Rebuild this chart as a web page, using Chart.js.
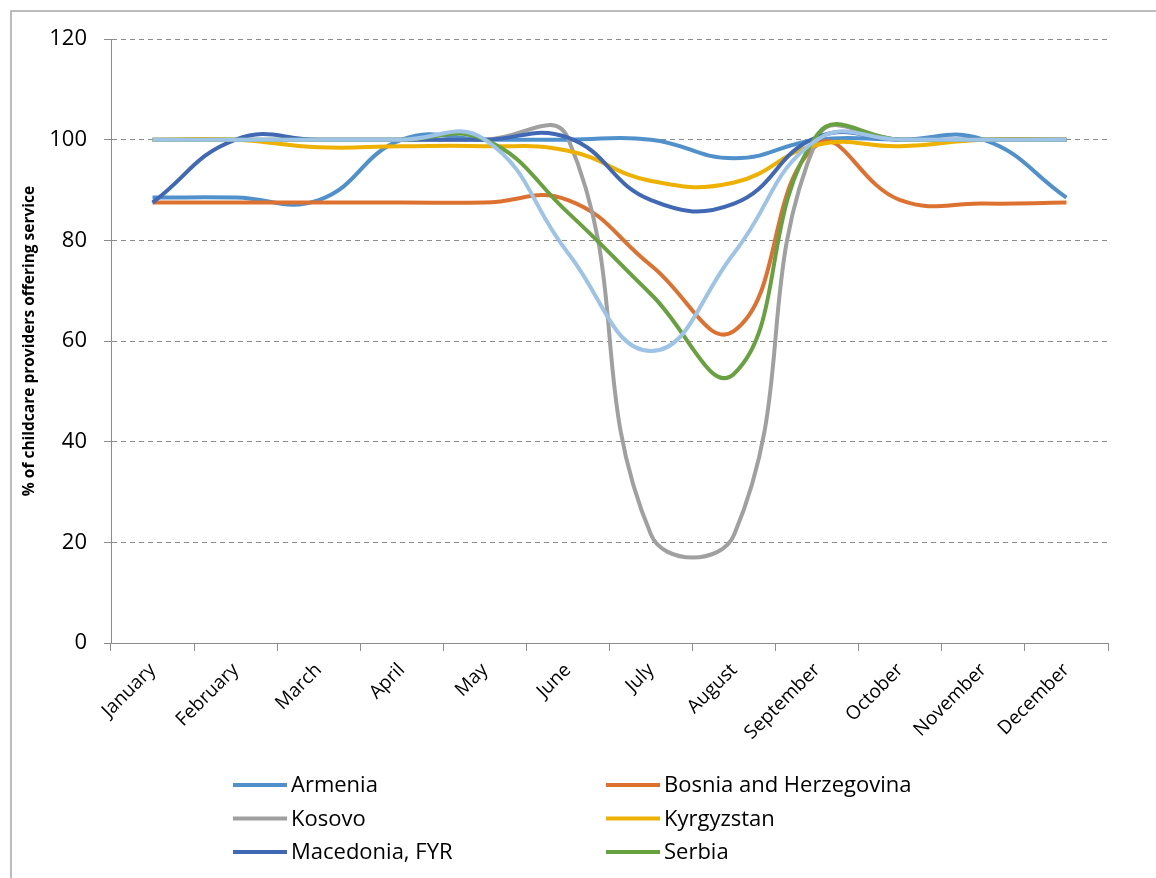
<!DOCTYPE html>
<html>
<head>
<meta charset="utf-8">
<title>Childcare providers offering service</title>
<script src="https://cdn.jsdelivr.net/npm/chart.js@4.4.1/dist/chart.umd.min.js"></script>
<style>
  body { margin: 0; background: #fff; }
  #myChart { display: block; }
</style>
</head>
<body>
<canvas id="myChart" width="1156" height="878"></canvas>
<script>
// months along the x axis
const months = ['January', 'February', 'March', 'April', 'May', 'June',
  'July', 'August', 'September', 'October', 'November', 'December'];

// % of childcare providers offering service
const armenia    = [88.5, 88.5, 88, 100, 100, 100, 100, 96.3, 100, 100, 100, 88.5];
const bosnia     = [87.5, 87.5, 87.5, 87.5, 87.5, 88, 75, 62, 99, 88, 87.3, 87.5];
const kosovo     = [100, 100, 100, 100, 100, 100.3, 21.5, 21.5, 100.3, 100, 100, 100];
const kyrgyzstan = [100, 100, 98.5, 98.7, 98.7, 97.8, 91.8, 91.5, 99, 98.7, 100, 100];
const macedonia  = [87.5, 100, 100, 100, 100, 100.4, 88, 87.3, 100.5, 100, 100, 100];
const serbia     = [100, 100, 100, 100, 100, 85.5, 69.3, 53.5, 101, 100, 100, 100];
// seventh series, its legend entry is cut off in the picture
const seventh    = [100, 100, 100, 100, 100, 77.5, 58, 77.5, 100, 100, 100, 100];

const yTicks = [0, 20, 40, 60, 80, 100, 120];

const seriesNames  = ['Armenia', 'Bosnia and Herzegovina', 'Kosovo', 'Kyrgyzstan', 'Macedonia, FYR', 'Serbia', ''];
const seriesValues = [armenia, bosnia, kosovo, kyrgyzstan, macedonia, serbia, seventh];
const seriesColors = ['#5090cb', '#dd7130', '#a0a0a0', '#eeb100', '#4068b4', '#68a140', '#9dc3e6'];

const FONT = '"Open Sans", Lato, sans-serif';

// frame round the whole figure
const framePlugin = {
  id: 'frame',
  beforeDraw(chart) {
    const ctx = chart.ctx;
    ctx.save();
    ctx.fillStyle = '#fff';
    ctx.fillRect(0, 0, chart.width, chart.height);
    ctx.strokeStyle = '#a6a6a6';
    ctx.lineWidth = 1.5;
    ctx.strokeRect(11, 11, chart.width + 20, chart.height + 20);
    ctx.restore();
  }
};

// two column legend under the axis
const legendPlugin = {
  id: 'twoColLegend',
  afterDraw(chart) {
    const ctx = chart.ctx;
    const colX = [233, 606];
    ctx.save();
    ctx.font = '22px ' + FONT;
    ctx.textBaseline = 'middle';
    chart.data.datasets.forEach(function(ds, i) {
      if (!ds.label) return;
      const x = colX[i % 2];
      const y = 785 + Math.floor(i / 2) * 33.5;
      ctx.strokeStyle = ds.borderColor;
      ctx.lineWidth = 4;
      ctx.beginPath();
      ctx.moveTo(x, y);
      ctx.lineTo(x + 54, y);
      ctx.stroke();
      ctx.fillStyle = '#000';
      ctx.fillText(ds.label, x + 58, y + 1);
    });
    ctx.restore();
  }
};

const datasets = seriesValues.map(function(vals, i) {
  return {
    label: seriesNames[i],
    data: vals,
    borderColor: seriesColors[i],
    backgroundColor: seriesColors[i],
    borderWidth: 4,
    pointRadius: 0,
    tension: 0.45,
    fill: false,
    order: seriesValues.length - i // later series on top, like the original
  };
});

window.onload = function() {
  new Chart(document.getElementById('myChart'), {
    type: 'line',
    data: { labels: months, datasets: datasets },
    plugins: [framePlugin, legendPlugin],
    options: {
      responsive: false,
      animation: false,
      layout: { padding: { left: 0, top: 39, right: 48, bottom: 135 } },
      plugins: {
        legend: { display: false },
        tooltip: { enabled: false }
      },
      scales: {
        x: {
          offset: true,
          grid: {
            offset: true,
            drawOnChartArea: false,
            tickLength: 8,
            tickColor: '#8c8c8c',
            color: '#8c8c8c'
          },
          border: { color: '#8c8c8c', width: 1 },
          ticks: {
            color: '#000',
            font: { family: FONT, size: 19 },
            minRotation: 45,
            maxRotation: 45,
            padding: 8
          },
          afterFit(scale) { scale.height = 100; }
        },
        y: {
          min: 0,
          max: 120,
          afterBuildTicks(scale) {
            scale.ticks = yTicks.map(function(v) { return { value: v }; });
          },
          grid: {
            color: '#8c8c8c',
            tickLength: 7,
            tickColor: '#8c8c8c',
            tickBorderDash: []
          },
          border: { color: '#8c8c8c', width: 1, dash: [5, 4] },
          ticks: {
            color: '#000',
            font: { family: FONT, size: 22 },
            padding: 17
          },
          title: {
            display: true,
            text: '% of childcare providers offering service',
            color: '#000',
            font: { family: FONT, size: 15.5, weight: 'bold' },
            padding: { top: 20, bottom: 0 }
          },
          afterFit(scale) { scale.width = 111; }
        }
      }
    }
  });
};
</script>
</body>
</html>
